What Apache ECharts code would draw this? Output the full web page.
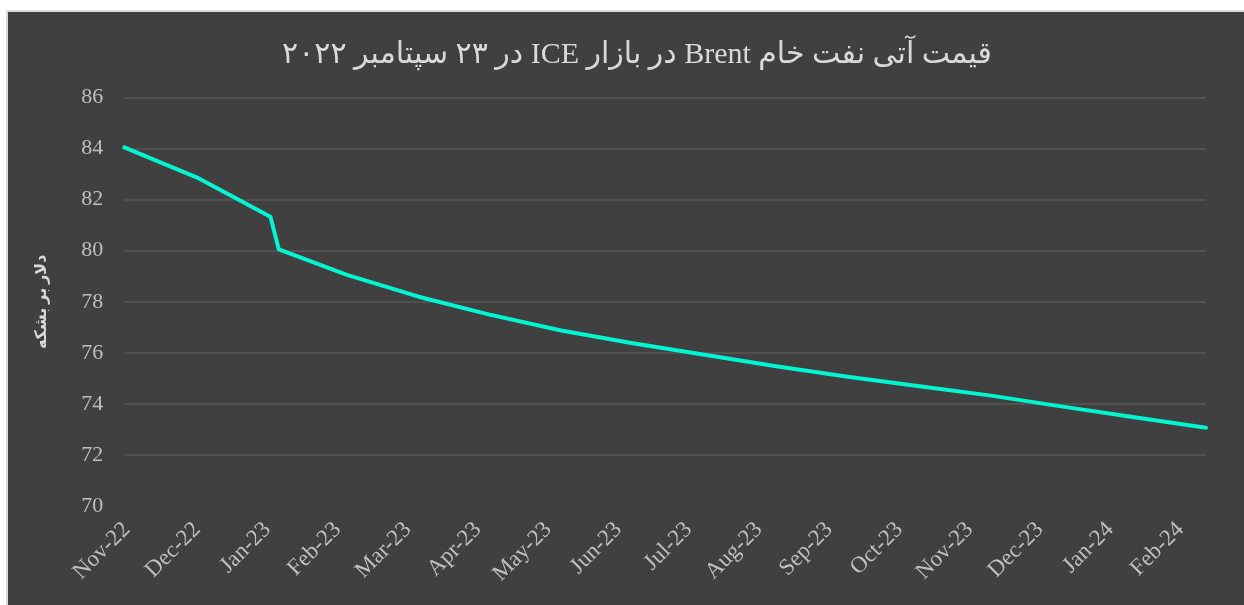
<!DOCTYPE html>
<html>
<head>
<meta charset="utf-8">
<script src="https://cdn.jsdelivr.net/npm/echarts@6/dist/echarts.min.js"></script>
<style>
	html, body { margin: 0; padding: 0; background: #ffffff; }
	#frame {
		position: absolute; left: 6px; top: 10px; width: 1238px; height: 595px;
		box-sizing: border-box; background: #404040;
		border-left: 2px solid #d9d9d9; border-top: 2px solid #d9d9d9;
	}
	#myChart { position: absolute; left: 0; top: 0; width: 1244px; height: 605px; }
</style>
</head>
<body>
<div id="frame"></div>
<div id="myChart"></div>
<script>
	// month labels on the x axis, one per tick starting at Nov-22
	var monthLabels = ["Nov-22", "Dec-22", "Jan-23", "Feb-23", "Mar-23", "Apr-23", "May-23", "Jun-23",
		"Jul-23", "Aug-23", "Sep-23", "Oct-23", "Nov-23", "Dec-23", "Jan-24", "Feb-24"];
	// position of each contract point, in months after Nov-22
	var contractPos = [0, 1.03, 2.08, 2.20, 3.17, 4.19, 5.20, 6.22, 7.24, 8.26, 9.28, 10.30, 11.32, 12.34, 13.36, 14.38, 15.40];
	// price, dollars per barrel
	var prices = [84.04, 82.87, 81.33, 80.05, 79.05, 78.20, 77.50, 76.88, 76.38, 75.93, 75.48, 75.07, 74.70, 74.33, 73.90, 73.48, 73.07];
	var yTicks = [70, 72, 74, 76, 78, 80, 82, 84, 86];

	var lineData = contractPos.map(function (p, i) { return [p, prices[i]]; });

	var labelColor = "#bfbfbf";
	var serif = "'Liberation Serif', 'Times New Roman', 'DejaVu Sans', serif";

	var chart = echarts.init(document.getElementById("myChart"));
	var option = {
		backgroundColor: "transparent",
		animation: false,
		title: {
			// right-to-left embedding so the Persian/Latin mix keeps its order
			text: "\u202Bقیمت آتی نفت خام Brent در بازار ICE در ۲۳ سپتامبر ۲۰۲۲\u202C",
			left: 632,
			textAlign: "center",
			top: 35,
			textStyle: {
				color: "#d9d9d9",
				fontSize: 30,
				fontWeight: "normal",
				fontFamily: serif
			}
		},
		grid: {
			left: 124.3,
			right: 38,
			top: 97.3,
			bottom: 98.7
		},
		xAxis: {
			type: "value",
			min: 0,
			max: contractPos[contractPos.length - 1],
			interval: 1,
			axisLine: { show: false },
			axisTick: { show: false },
			splitLine: { show: false },
			axisLabel: {
				rotate: 45,
				margin: 6,
				align: "right",
				verticalAlign: "top",
				padding: [0, 8, 0, 0],
				showMaxLabel: false,
				color: labelColor,
				fontSize: 23,
				fontFamily: serif,
				formatter: function (v) {
					var i = Math.round(v);
					return Math.abs(v - i) < 1e-6 && monthLabels[i] ? monthLabels[i] : "";
				}
			}
		},
		yAxis: {
			type: "value",
			min: yTicks[0],
			max: yTicks[yTicks.length - 1],
			interval: 2,
			name: "دلار بر بشکه",
			nameLocation: "middle",
			nameGap: 74,
			nameRotate: 90,
			nameTextStyle: {
				color: "#d9d9d9",
				fontSize: 16,
				fontWeight: "bold",
				fontFamily: serif
			},
			axisLine: { show: false },
			axisTick: { show: false },
			axisLabel: {
				margin: 21,
				color: labelColor,
				fontSize: 22,
				fontFamily: serif
			},
			splitLine: {
				show: true,
				showMinLine: false,
				lineStyle: { color: "#575757", width: 1.5 }
			}
		},
		series: [
			{
				name: "Brent",
				type: "line",
				data: lineData,
				symbol: "none",
				lineStyle: { color: "#00f5d0", width: 4, join: "round", cap: "round" }
			}
		]
	};
	chart.setOption(option);
	window.addEventListener("resize", function () {
		chart.resize();
	});
</script>
</body>
</html>
